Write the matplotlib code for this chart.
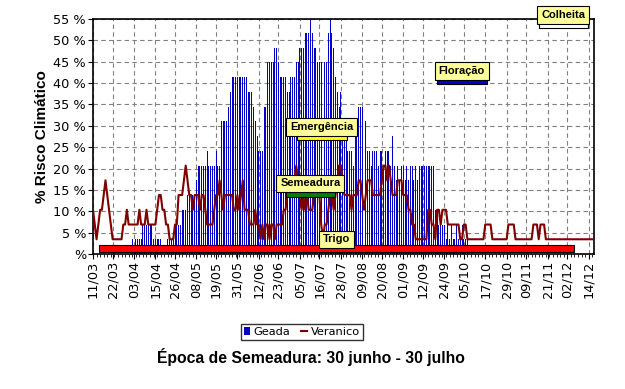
import numpy as np
import matplotlib
matplotlib.use("Agg")
import matplotlib.pyplot as plt
from matplotlib.ticker import FixedLocator, MultipleLocator

plt.rcParams["font.family"] = ["Liberation Sans", "DejaVu Sans"]

N_YEARS = 29  # risk = years with event / years in series

# daily counts (years out of 29), day 0 = 11/03
geada = [0, 0, 0, 0, 0, 0, 0, 0, 0, 0,
         0, 0, 0, 0, 0, 0, 0, 0, 0, 0,
         0, 0, 1, 1, 1, 1, 1, 1, 2, 2,
         2, 2, 2, 2, 1, 1, 1, 1, 1, 0,
         0, 0, 1, 1, 1, 1, 2, 2, 2, 2,
         3, 3, 3, 4, 4, 4, 4, 4, 5, 6,
         6, 6, 6, 6, 7, 6, 6, 6, 6, 7,
         6, 6, 9, 9, 9, 9, 10, 11, 12, 12,
         12, 12, 12, 12, 12, 12, 12, 11, 11, 11,
         10, 9, 8, 7, 7, 7, 10, 10, 13, 13,
         13, 13, 14, 14, 13, 12, 12, 12, 12, 11,
         11, 12, 12, 12, 13, 13, 14, 14, 14, 15,
         15, 15, 16, 15, 14, 14, 13, 13, 13, 13,
         13, 13, 15, 16, 15, 14, 12, 11, 10, 11,
         9, 8, 8, 7, 7, 7, 6, 9, 8, 10,
         10, 10, 10, 9, 7, 7, 6, 7, 7, 7,
         6, 7, 7, 6, 7, 7, 7, 6, 8, 6,
         5, 6, 5, 6, 6, 5, 6, 5, 6, 6,
         5, 6, 5, 6, 6, 6, 6, 6, 6, 6,
         6, 6, 3, 3, 2, 2, 2, 2, 1, 2,
         1, 2, 1, 1, 2, 1, 1, 2, 1, 1,
         1] + [0] * 71

veranico = [3, 2, 1, 2, 3, 3, 4, 5, 4, 3,
            2, 1, 1, 1, 1, 1, 1, 2, 2, 3,
            2, 2, 2, 2, 2, 2, 3, 2, 2, 2,
            3, 2, 2, 2, 2, 2, 3, 4, 4, 3,
            3, 2, 2, 1, 1, 1, 2, 2, 4, 4,
            4, 5, 6, 5, 4, 4, 3, 4, 4, 4,
            3, 4, 4, 3, 2, 2, 2, 2, 3, 4,
            4, 5, 4, 3, 4, 4, 4, 4, 4, 3,
            3, 4, 3, 4, 5, 3, 3, 3, 2, 2,
            2, 3, 2, 2, 1, 2, 1, 2, 2, 1,
            2, 2, 1, 2, 2, 2, 2, 3, 3, 4,
            4, 4, 5, 5, 6, 5, 4, 3, 4, 3,
            4, 3, 3, 3, 4, 4, 4, 4, 2, 1,
            2, 2, 3, 4, 4, 3, 4, 5, 6, 6,
            5, 4, 4, 4, 4, 3, 4, 4, 4, 5,
            5, 4, 3, 4, 5, 5, 5, 4, 4, 4,
            4, 4, 5, 6, 6, 5, 6, 5, 4, 4,
            4, 5, 5, 5, 4, 4, 4, 3, 3, 2,
            2, 1, 1, 1, 1, 1, 1, 1, 3, 3,
            2, 2, 1, 3, 3, 2, 3, 3, 3, 2,
            2, 2, 2, 2, 2, 2, 1, 1, 2, 2,
            1, 1, 1, 1, 1, 1, 1, 1, 1, 1,
            2, 2, 2, 2, 1, 1, 1, 1, 1, 1,
            1, 1, 1, 2, 2, 2, 2, 1, 1, 1,
            1, 1, 1, 1, 1, 1, 1, 2, 2, 2,
            1, 2, 2, 2, 1, 1, 1, 1, 1, 1] + [1] * 22

tick_days = [0, 11, 23, 35, 46, 58, 69, 81, 93, 104, 116, 127, 139,
             151, 162, 174, 185, 197, 208, 220, 232, 243, 255, 266, 278]
tick_labels = ["11/03", "22/03", "03/04", "15/04", "26/04", "08/05", "19/05",
               "31/05", "12/06", "23/06", "05/07", "16/07", "28/07", "09/08",
               "20/08", "01/09", "12/09", "24/09", "05/10", "17/10", "29/10",
               "09/11", "21/11", "02/12", "14/12"]

# crop phases: label, start day, end day, bar bottom %, bar top %, colour
phases = [
    ("Trigo", 3.4, 269.6, 0.4, 2.1, "#ff0000"),
    ("Semeadura", 108.2, 135.7, 13.4, 14.6, "#008000"),
    ("Emergência", 114.3, 142.4, 26.7, 28.3, "#ffff00"),
    ("Floração", 192.8, 220.9, 39.8, 41.0, "#0000cc"),
    ("Colheita", 250.0, 277.5, 52.9, 54.8, "#ffffff"),
]
label_y = [3.4, 16.5, 29.8, 42.9, 56.0]

days = np.arange(len(geada))
geada_pct = np.array(geada) * 100.0 / N_YEARS
veranico_pct = np.array(veranico) * 100.0 / N_YEARS

fig = plt.figure(figsize=(6.25, 3.89), dpi=100)
ax = fig.add_axes([93 / 625, 1 - 254 / 389, 501 / 625, 235 / 389])

bars = ax.bar(days, geada_pct, width=0.55, color="#0000c8", label="Geada", zorder=2)
line, = ax.plot(days, veranico_pct, color="#800000", lw=1.5, label="Veranico", zorder=3)

for (name, x0, x1, y0, y1, col), ly in zip(phases, label_y):
    ax.add_patch(plt.Rectangle((x0, y0), x1 - x0, y1 - y0, facecolor=col,
                               edgecolor="black", lw=0.8, zorder=4, clip_on=False))
    ax.text((x0 + x1) / 2, ly, name, ha="center", va="center", fontsize=8,
            fontweight="bold", zorder=5, clip_on=False,
            bbox=dict(boxstyle="square,pad=0.35", fc="#ffff99", ec="black", lw=0.8))

ax.set_xlim(0, 281)
ax.set_ylim(0, 55)
ax.yaxis.set_major_locator(MultipleLocator(5))
ax.set_yticklabels(["%" if v == 0 else f"{v:.0f} %" for v in ax.get_yticks()],
                   family="DejaVu Sans")
ax.xaxis.set_major_locator(FixedLocator(tick_days))
ax.xaxis.set_minor_locator(MultipleLocator(2))
ax.set_xticklabels(tick_labels, rotation=90, family="DejaVu Sans")
ax.tick_params(labelsize=9.3, length=3.5, width=0.8, pad=1.5)
ax.tick_params(which="minor", length=2, width=0.6)
ax.grid(True, which="major", color="#808080", ls=(0, (4, 3)), lw=0.8, zorder=0)
ax.set_axisbelow(True)
for s in ax.spines.values():
    s.set_linewidth(1.2)

ax.set_ylabel("% Risco Climático", fontsize=11, fontweight="bold", labelpad=3)

fig.legend([bars, line], ["Geada", "Veranico"], loc="center",
           bbox_to_anchor=(302 / 625, 1 - 332 / 389), ncol=2,
           prop={"family": "DejaVu Sans", "size": 8.2}, frameon=True,
           fancybox=False, edgecolor="black", handlelength=0.5,
           handletextpad=0.35, columnspacing=0.9, borderpad=0.25,
           borderaxespad=0)
fig.text(311 / 625, 1 - 357 / 389, "Época de Semeadura: 30 junho - 30 julho",
         ha="center", va="center", fontsize=11.3, fontweight="bold")

fig.savefig("out.png", dpi=100)
